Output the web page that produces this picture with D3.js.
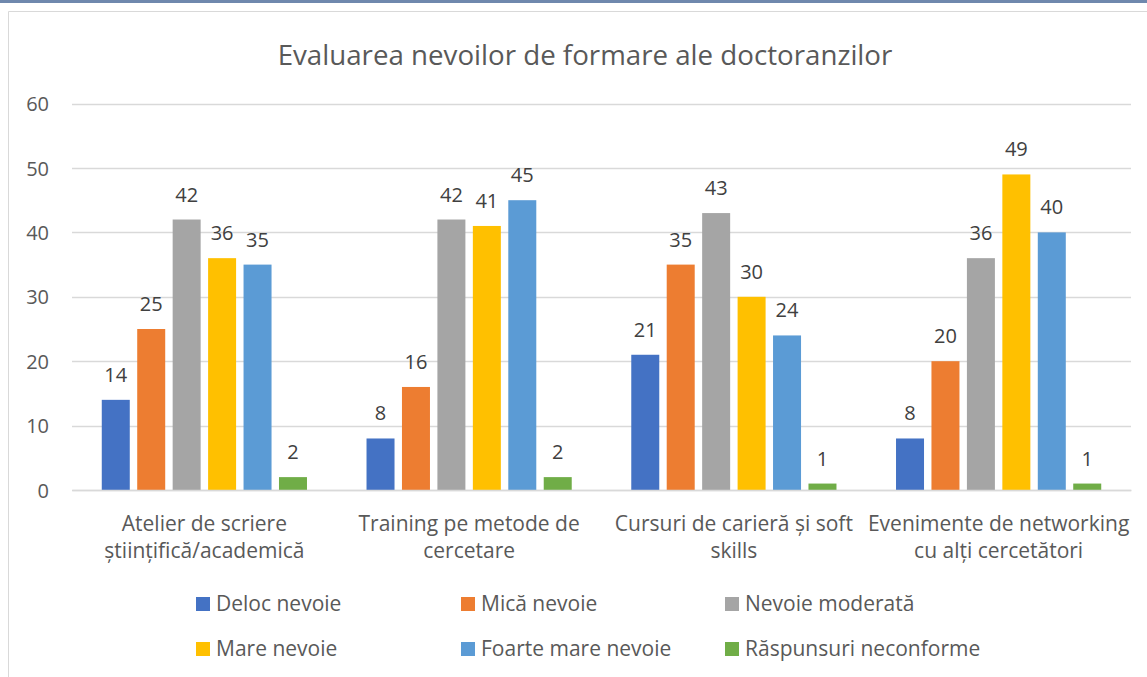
<!DOCTYPE html>
<html>
<head>
<meta charset="utf-8">
<script src="https://cdn.jsdelivr.net/npm/d3@7"></script>
<style>
  body { margin: 0; background: #fff; }
  svg { display: block; font-family: "Open Sans", sans-serif; }
</style>
</head>
<body>
<svg id="chart" width="1147" height="677"></svg>
<script>
// chart data
var categories = [
    'Atelier de scriere\nștiințifică/academică',
    'Training pe metode de\ncercetare',
    'Cursuri de carieră și soft\nskills',
    'Evenimente de networking\ncu alți cercetători'
]
var seriesNames = ['Deloc nevoie', 'Mică nevoie', 'Nevoie moderată', 'Mare nevoie', 'Foarte mare nevoie', 'Răspunsuri neconforme']
var deloc = [14, 8, 21, 8]
var mica = [25, 16, 35, 20]
var moderata = [42, 42, 43, 36]
var mare = [36, 41, 30, 49]
var foarteMare = [35, 45, 24, 40]
var neconforme = [2, 2, 1, 1]
var yTicks = [0, 10, 20, 30, 40, 50, 60]
var colors = ['#4472C4', '#ED7D31', '#A5A5A5', '#FFC000', '#5B9BD5', '#70AD47']

var values = [deloc, mica, moderata, mare, foarteMare, neconforme]

var svg = d3.select('#chart'),
    plotLeft = 72, plotRight = 1131, plotTop = 103.6, plotBottom = 490

// frame
svg.append('rect').attr('x', 0).attr('y', 0).attr('width', 1147).attr('height', 3).attr('fill', '#6f88ad')
svg.append('line').attr('x1', 8.5).attr('x2', 1147).attr('y1', 11.5).attr('y2', 11.5).attr('stroke', '#d9d9d9')
svg.append('line').attr('x1', 8.5).attr('x2', 8.5).attr('y1', 11.5).attr('y2', 677).attr('stroke', '#d9d9d9')

svg.append('text')
    .attr('x', 585).attr('y', 65)
    .attr('text-anchor', 'middle')
    .attr('font-size', 27.7)
    .attr('fill', '#595959')
    .text('Evaluarea nevoilor de formare ale doctoranzilor')

var x0 = d3.scaleBand().domain(d3.range(categories.length)).range([plotLeft, plotRight]).padding(0)
var x1 = d3.scaleBand().domain(d3.range(seriesNames.length)).range([0, x0.bandwidth()])
    .paddingInner(0.21).paddingOuter(0.84)
var y = d3.scaleLinear().domain([0, 60]).range([plotBottom, plotTop])

// gridlines
svg.append('g').selectAll('line').data(yTicks).join('line')
    .attr('x1', plotLeft).attr('x2', plotRight)
    .attr('y1', d => Math.round(y(d)) + 0.5).attr('y2', d => Math.round(y(d)) + 0.5)
    .attr('stroke', '#d9d9d9').attr('stroke-width', 1.3)

var yAxis = svg.append('g')
    .attr('transform', 'translate(49,0)')
    .call(d3.axisLeft(y).tickValues(yTicks).tickSize(0).tickPadding(0))
yAxis.select('.domain').remove()
yAxis.selectAll('text').attr('font-size', 20).attr('fill', '#595959')
    .attr('font-family', '"Open Sans", sans-serif').attr('dy', '0.35em')

// bars
var groups = svg.append('g').selectAll('g').data(categories).join('g')
    .attr('transform', (d, i) => 'translate(' + x0(i) + ',0)')

groups.selectAll('rect').data((d, i) => values.map((v, s) => ({ s: s, v: v[i] }))).join('rect')
    .attr('x', d => x1(d.s))
    .attr('width', x1.bandwidth())
    .attr('y', d => y(d.v))
    .attr('height', d => y(0) - y(d.v))
    .attr('fill', d => colors[d.s])

groups.selectAll('text.val').data((d, i) => values.map((v, s) => ({ s: s, v: v[i] }))).join('text')
    .attr('class', 'val')
    .attr('x', d => x1(d.s) + x1.bandwidth() / 2)
    .attr('y', d => y(d.v) - 18)
    .attr('text-anchor', 'middle')
    .attr('font-size', 20)
    .attr('fill', '#404040')
    .text(d => d.v)

// category labels
var xAxis = svg.append('g')
    .attr('transform', 'translate(0,' + plotBottom + ')')
    .call(d3.axisBottom(x0).tickSize(0).tickFormat(''))
xAxis.select('.domain').attr('stroke', '#d9d9d9').attr('stroke-width', 1.3)
xAxis.selectAll('.tick').each(function (d) {
    var t = d3.select(this).append('text')
        .attr('text-anchor', 'middle')
        .attr('font-size', 21)
        .attr('fill', '#595959')
        .attr('font-family', '"Open Sans", sans-serif')
    categories[d].split('\n').forEach(function (line, k) {
        t.append('tspan').attr('x', 0).attr('y', 40.5 + k * 27.5).text(line)
    })
})

// legend
var legX = [196, 461, 725], legY = [597, 642]
var legend = svg.append('g').selectAll('g').data(seriesNames).join('g')
    .attr('transform', (d, i) => 'translate(' + legX[i % 3] + ',' + legY[Math.floor(i / 3)] + ')')
legend.append('rect').attr('width', 14).attr('height', 14).attr('fill', (d, i) => colors[i])
legend.append('text').attr('x', 20).attr('y', 14)
    .attr('font-size', 21).attr('fill', '#595959')
    .text(d => d)
</script>
</body>
</html>
